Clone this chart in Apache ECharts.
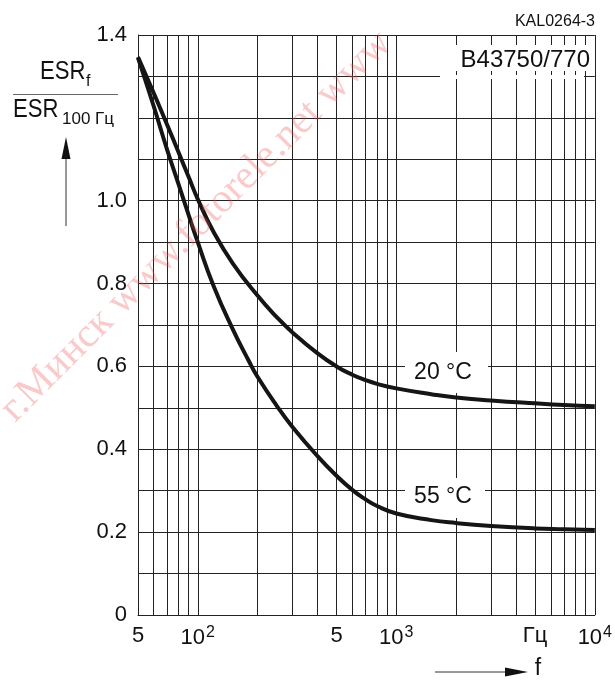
<!DOCTYPE html>
<html><head><meta charset="utf-8">
<script src="https://cdn.jsdelivr.net/npm/echarts@6/dist/echarts.min.js"></script>
<style>html,body{margin:0;padding:0;background:#fff}#c{width:615px;height:680px}</style>
</head><body><div id="c"></div>
<script>
// ---- data ----
const freq20 = [50,60,70,80,90,100,120,150,200,250,300,400,500,600,700,800,1000,1500,2000,3000,5000,7000,10000];
const esr20  = [1.347,1.26,1.184,1.117,1.057,1.004,0.925,0.849,0.771,0.719,0.682,0.632,0.6,0.58,0.567,0.558,0.547,0.533,0.525,0.518,0.511,0.507,0.504];
const freq55 = [50,60,70,80,90,100,120,150,180,200,250,300,400,500,600,700,800,1000,1500,2000,3000,5000,7000,10000];
const esr55  = [1.345,1.228,1.124,1.04,0.965,0.9,0.795,0.69,0.615,0.575,0.505,0.454,0.384,0.336,0.302,0.279,0.263,0.245,0.229,0.222,0.215,0.209,0.207,0.205];
const seriesNames = ['20 °C','55 °C'];
const xTickValues = [50,100,500,1000,5000,10000];
const xTickLabels = ['5','{b|10}{s|2}','5','{b|10}{s|3}','Гц','{b|10}{s|4}'];
const gridFreqs = [50,60,70,80,90,100,200,300,400,500,600,700,800,900,1000,2000,3000,4000,5000,6000,7000,8000,9000,10000];
const yTickValues = [0,0.2,0.4,0.6,0.8,1.0,1.4];

const FONT = '"Liberation Sans", Arial, sans-serif';
const zip = (xs, ys) => xs.map((x, i) => [x, ys[i]]);

const chart = echarts.init(document.getElementById('c'), null, {renderer: 'canvas'});
chart.setOption({
  animation: false,
  backgroundColor: '#fff',
  grid: {left: 138, right: 20, top: 35, bottom: 65, containLabel: false},
  xAxis: {
    type: 'log', logBase: 10, min: 50, max: 10000,
    axisLine: {show: true, lineStyle: {color: '#222', width: 1}},
    axisTick: {show: false, customValues: gridFreqs},
    splitLine: {show: true, lineStyle: {color: '#222', width: 1}},
    axisLabel: {
      customValues: xTickValues,
      margin: 10,
      formatter: v => { const i = xTickValues.findIndex(t => Math.abs(t - v) < 1e-6 * t); return i >= 0 ? xTickLabels[i] : ''; },
      color: '#111', fontFamily: FONT, fontSize: 22,
      rich: {
        b: {fontFamily: FONT, fontSize: 22, color: '#111'},
        s: {fontFamily: FONT, fontSize: 16, color: '#111', verticalAlign: 'top', padding: [0,0,10,1]}
      }
    }
  },
  yAxis: {
    type: 'value', min: 0, max: 1.4, interval: 0.1,
    axisLine: {show: true, lineStyle: {color: '#222', width: 1}},
    axisTick: {show: false},
    splitLine: {show: true, lineStyle: {color: '#222', width: 1}},
    axisLabel: {
      customValues: yTickValues,
      margin: 11,
      formatter: v => v === 0 ? '0' : v.toFixed(1),
      color: '#111', fontFamily: FONT, fontSize: 22
    }
  },
  series: [
    {name: seriesNames[0], type: 'line', data: zip(freq20, esr20), smooth: 0.5, symbol: 'none', z: 5,
     lineStyle: {color: '#151515', width: 4}},
    {name: seriesNames[1], type: 'line', data: zip(freq55, esr55), smooth: 0.5, symbol: 'none', z: 5,
     lineStyle: {color: '#151515', width: 4}}
  ],
  graphic: [
    // white boxes behind annotations
    {type: 'rect', z: 3, shape: {x: 440, y: 45, width: 150, height: 26}, style: {fill: '#fff'}},
    {type: 'rect', z: 3, shape: {x: 440, y: 75, width: 144, height: 4}, style: {fill: '#fff'}},
    {type: 'rect', z: 3, shape: {x: 405, y: 352, width: 83, height: 41}, style: {fill: '#fff'}},
    {type: 'rect', z: 3, shape: {x: 405, y: 478, width: 80, height: 40}, style: {fill: '#fff'}},
    {type: 'text', z: 4, style: {text: 'B43750/770', x: 590, y: 60, align: 'right', verticalAlign: 'middle', font: '24px ' + FONT, fill: '#111'}},
    {type: 'text', z: 4, style: {text: '20 °C', x: 443, y: 373, align: 'center', verticalAlign: 'middle', font: '23px ' + FONT, fill: '#111'}},
    {type: 'text', z: 4, style: {text: '55 °C', x: 443, y: 497, align: 'center', verticalAlign: 'middle', font: '23px ' + FONT, fill: '#111'}},
    {type: 'text', z: 4, style: {text: 'KAL0264-3', x: 595, y: 22, align: 'right', verticalAlign: 'middle', font: '16px ' + FONT, fill: '#111'}},
    // y-axis title (fraction)
    {type: 'text', z: 4, x: 40, y: 72, scaleX: 0.85,
     style: {text: 'ESR', x: 0, y: 0, align: 'left', verticalAlign: 'middle', font: '26px ' + FONT, fill: '#111'}},
    {type: 'text', z: 4, style: {text: 'f', x: 86, y: 82, align: 'left', verticalAlign: 'middle', font: '16px ' + FONT, fill: '#111'}},
    {type: 'line', z: 4, shape: {x1: 13, y1: 94.5, x2: 118, y2: 94.5}, style: {stroke: '#666', lineWidth: 1}},
    {type: 'text', z: 4, x: 13, y: 110, scaleX: 0.85,
     style: {text: 'ESR', x: 0, y: 0, align: 'left', verticalAlign: 'middle', font: '26px ' + FONT, fill: '#111'}},
    {type: 'text', z: 4, style: {text: '100 Гц', x: 62, y: 119, align: 'left', verticalAlign: 'middle', font: '17px ' + FONT, fill: '#111'}},
    {type: 'line', z: 4, shape: {x1: 66, y1: 226, x2: 66, y2: 150}, style: {stroke: '#333', lineWidth: 1}},
    {type: 'polygon', z: 4, shape: {points: [[66, 137], [61.5, 159], [70.5, 159]]}, style: {fill: '#111'}},
    // x-axis title
    {type: 'line', z: 4, shape: {x1: 435, y1: 672, x2: 510, y2: 672}, style: {stroke: '#333', lineWidth: 1}},
    {type: 'polygon', z: 4, shape: {points: [[528, 672], [505, 667.5], [505, 676.5]]}, style: {fill: '#111'}},
    {type: 'text', z: 4, style: {text: 'f', x: 538, y: 669, align: 'center', verticalAlign: 'middle', font: '23px ' + FONT, fill: '#111'}},
    // watermark
    {type: 'text', z: 10, x: 22, y: 430, rotation: 45 * Math.PI / 180,
     style: {text: 'г.Минск www.fotorele.net www', x: 0, y: 0, align: 'left', verticalAlign: 'bottom',
             font: '41px "Liberation Serif", "DejaVu Serif", serif', fill: 'rgba(240,80,80,0.3)'}}
  ]
});
</script>
</body></html>
